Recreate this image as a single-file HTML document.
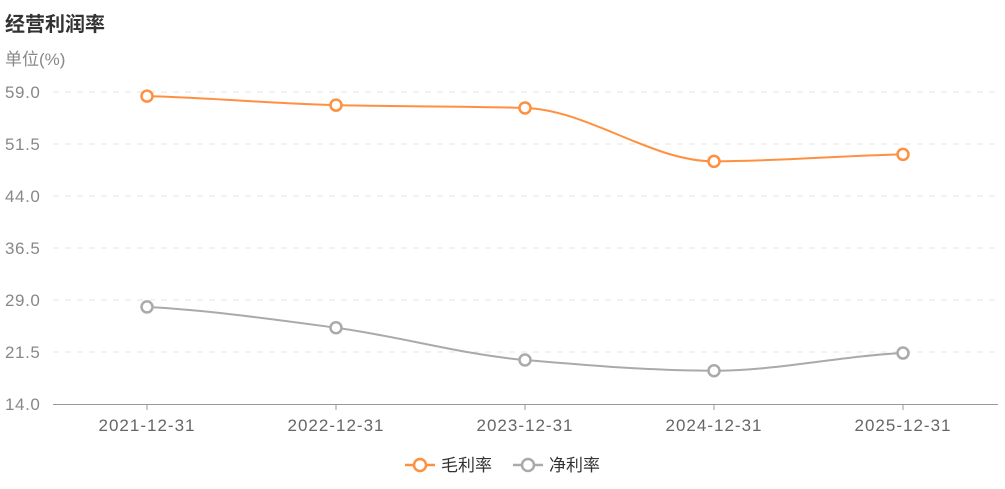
<!DOCTYPE html>
<html><head><meta charset="utf-8"><style>
body{margin:0;background:#fff;font-family:"Liberation Sans","Noto Sans CJK SC",sans-serif}
</style></head><body>
<svg width="1005" height="484" xmlns="http://www.w3.org/2000/svg" id="chart" font-family="Liberation Sans, Noto Sans CJK SC, sans-serif">
<text x="5" y="31" font-size="20" font-weight="bold" fill="#333">经营利润率</text>
<text x="5" y="65" font-size="17" fill="#888">单位(%)</text>
<g id="grid"></g><g id="series"></g>
<g>
<g><line x1="405" y1="465" x2="435" y2="465" stroke="#ff9040" stroke-width="2.5"/><circle cx="420" cy="465" r="6" fill="#fff" stroke="#ff9040" stroke-width="2.5"/><text x="441" y="471" font-size="17" fill="#333">毛利率</text></g>
<g><line x1="513" y1="465" x2="543" y2="465" stroke="#aaa" stroke-width="2.5"/><circle cx="528" cy="465" r="6" fill="#fff" stroke="#aaa" stroke-width="2.5"/><text x="549" y="471" font-size="17" fill="#333">净利率</text></g>
</g>
</svg>
<script>
const categories=["2021-12-31","2022-12-31","2023-12-31","2024-12-31","2025-12-31"];
const grossMargin=[58.4,57.1,56.7,49.0,50.0];
const netMargin=[28.0,25.0,20.35,18.8,21.35];
const yTicks=[14.0,21.5,29.0,36.5,44.0,51.5,59.0];
const NS="http://www.w3.org/2000/svg";
const x=i=>147+i*189;
const y=v=>404-(v-14)*312/45;
function mk(t,a,p){const e=document.createElementNS(NS,t);for(const k in a)e.setAttribute(k,a[k]);p.appendChild(e);return e;}
const g=document.getElementById('grid'),s=document.getElementById('series');
yTicks.forEach((v,i)=>{
 if(i>0){const l=mk('line',{x1:53,x2:998,y1:y(v),y2:y(v),stroke:'#e6e6e6','stroke-dasharray':'6,6'},g);
 
 }
 const t=mk('text',{x:5,y:y(v)+6,'font-size':17,'letter-spacing':0.6,fill:'#888'},g);t.textContent=v.toFixed(1);
 
 
});
const ax=mk('line',{x1:53,x2:998,y1:404.5,y2:404.5,stroke:'#999'},g);


categories.forEach((c,i)=>{
 mk('line',{x1:x(i),x2:x(i),y1:404,y2:410,stroke:'#999'},g);
 const t=mk('text',{x:x(i),y:431,'font-size':17,'letter-spacing':1,fill:'#666','text-anchor':'middle'},g);t.textContent=c;
 
 
});
function path(vals){
 const p=vals.map((v,i)=>[x(i),y(v)]);const n=p.length;
 const d=[];for(let i=0;i<n-1;i++)d.push((p[i+1][1]-p[i][1])/(p[i+1][0]-p[i][0]));
 const m=p.map((_,i)=>i==0?d[0]*0.5:i==n-1?d[n-2]*0.5:(d[i-1]*d[i]<=0?0:2/(1/d[i-1]+1/d[i])));
 let s='M'+p[0][0]+','+p[0][1];
 for(let i=0;i<n-1;i++){const h=(p[i+1][0]-p[i][0])/3;
 s+=` C${p[i][0]+h},${p[i][1]+m[i]*h} ${p[i+1][0]-h},${p[i+1][1]-m[i+1]*h} ${p[i+1][0]},${p[i+1][1]}`;}
 return s;
}
[[grossMargin,'#ff9040','gross-margin'],[netMargin,'#aaa','net-margin']].forEach(([vals,col,name])=>{
 const l=mk('path',{d:path(vals),fill:'none',stroke:col,'stroke-width':2},s);
 
 
 vals.forEach((v,i)=>{const c=mk('circle',{cx:x(i),cy:y(v),r:5.5,fill:'#fff',stroke:col,'stroke-width':2.5},s);
 
 });
});
</script>
</body></html>
